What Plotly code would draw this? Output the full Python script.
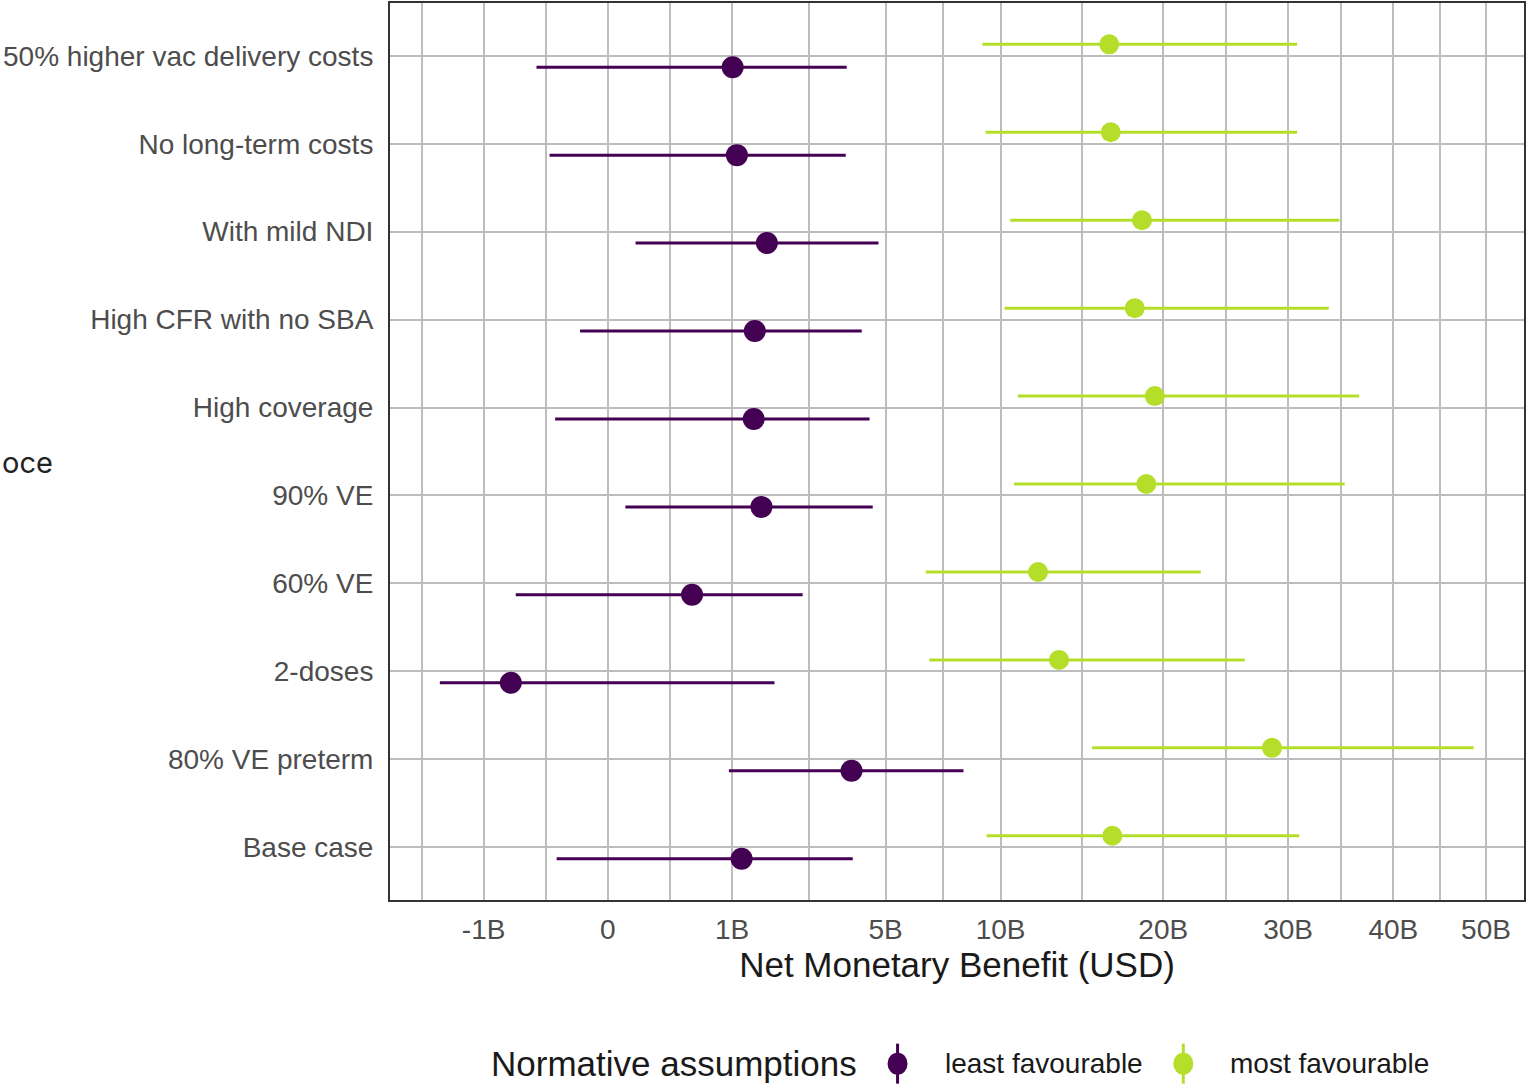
import numpy as np
import plotly.graph_objects as go

# ---------------- data (billions USD) ----------------
scenarios = ["Base case", "80% VE preterm", "2-doses", "60% VE", "90% VE",
             "High coverage", "High CFR with no SBA", "With mild NDI",
             "No long-term costs", "50% higher vac delivery costs"]

least_mid = [1.16, 3.85, -0.61, 0.46, 1.53, 1.38, 1.40, 1.64, 1.08, 1.01]
least_lo = [-0.17, 0.95, -1.83, -0.55, 0.02, -0.18, -0.05, 0.05, -0.22, -0.33]
least_hi = [3.89, 8.20, 1.80, 2.46, 4.55, 4.44, 4.18, 4.75, 3.67, 3.70]

most_mid = [16.5, 28.6, 13.2, 12.0, 18.8, 19.4, 18.0, 18.5, 16.4, 16.3]
most_lo = [9.3, 15.2, 6.7, 6.55, 10.7, 10.9, 10.2, 10.5, 9.25, 9.1]
most_hi = [31.0, 48.6, 26.3, 22.8, 35.2, 36.6, 33.7, 34.7, 30.8, 30.8]

tick_vals_b = [-1, 0, 1, 5, 10, 20, 30, 40, 50]
tick_text = ["-1B", "0", "1B", "5B", "10B", "20B", "30B", "40B", "50B"]

series_names = ["least favourable", "most favourable"]
colors = ["#440154", "#B5DE2B"]


def tr(v):
    v = np.asarray(v, dtype=float)
    return np.sign(v) * np.sqrt(np.abs(v))


# ---------------- figure ----------------
W, H = 1527, 1084
ML, MR, MT, MB = 390, 2, 1, 184
PW, PH = W - ML - MR, H - MT - MB

FONT = "Liberation Sans, Arial"
fig = go.Figure()
ypos = np.arange(len(scenarios))
dodge = 0.13

for mid, lo, hi, name, col, off, size in [
    (least_mid, least_lo, least_hi, series_names[0], colors[0], -dodge, 22),
    (most_mid, most_lo, most_hi, series_names[1], colors[1], dodge, 20),
]:
    tm, tl, th = tr(mid), tr(lo), tr(hi)
    fig.add_trace(go.Scatter(
        x=tm, y=ypos + off, mode="markers", name=name, showlegend=False,
        marker=dict(color=col, size=size, line=dict(width=0)),
        error_x=dict(type="data", symmetric=False, array=th - tm,
                     arrayminus=tm - tl, width=0, thickness=3, color=col),
    ))

major = tr(tick_vals_b)
minor = [-1.5] + list((major[:-1] + major[1:]) / 2) + [major[-1] + (major[-1] - major[-2]) / 2]

fig.update_xaxes(
    range=[-1.754, 7.377], tickvals=major, ticktext=tick_text,
    showgrid=True, gridcolor="#bdbdbd", gridwidth=2, zeroline=False,
    minor=dict(tickvals=minor, showgrid=True, gridcolor="#bdbdbd", gridwidth=2),
    tickfont=dict(family=FONT, size=28, color="#4d4d4d"),
    ticks="", ticklabelstandoff=3,
    title=dict(text="Net Monetary Benefit (USD)", standoff=6,
               font=dict(family=FONT, size=35, color="#1a1a1a")),
    showline=True, linecolor="#333333", linewidth=2, mirror=True,
)
fig.update_yaxes(
    range=[-0.6, 9.6], tickvals=ypos, ticktext=scenarios,
    showgrid=True, gridcolor="#bdbdbd", gridwidth=2, zeroline=False,
    tickfont=dict(family=FONT, size=28, color="#4d4d4d"),
    ticks="", ticklabelstandoff=9,
    showline=True, linecolor="#333333", linewidth=2, mirror=True,
)


def px2x(px):
    return (px - ML) / PW


def py2y(py):
    return (H - MB - py) / PH


annotations = []
shapes = []
ly = 1064
annotations.append(dict(text="Normative assumptions", xref="paper", yref="paper",
                        x=px2x(489), y=py2y(ly), xanchor="left", yanchor="middle",
                        showarrow=False,
                        font=dict(family=FONT, size=35, color="#1a1a1a")))
for gx, tx, name, col in [(898, 943, series_names[0], colors[0]),
                          (1184, 1229, series_names[1], colors[1])]:
    shapes.append(dict(type="line", xref="paper", yref="paper",
                       xsizemode="pixel", ysizemode="pixel",
                       xanchor=px2x(gx), yanchor=py2y(ly),
                       x0=0, x1=0, y0=-20, y1=20, line=dict(color=col, width=3)))
    shapes.append(dict(type="circle", xref="paper", yref="paper",
                       xsizemode="pixel", ysizemode="pixel",
                       xanchor=px2x(gx), yanchor=py2y(ly),
                       x0=-10, x1=10, y0=-11, y1=11, fillcolor=col,
                       line=dict(color=col, width=0)))
    annotations.append(dict(text=name, xref="paper", yref="paper",
                            x=px2x(tx), y=py2y(ly), xanchor="left", yanchor="middle",
                            showarrow=False,
                            font=dict(family=FONT, size=28, color="#1a1a1a")))

annotations.append(dict(text="oce", xref="paper", yref="paper",
                        x=px2x(0), y=py2y(462), xanchor="left", yanchor="middle",
                        showarrow=False,
                        font=dict(family="Inter, Roboto", size=29, color="#222222")))

fig.update_layout(
    width=W, height=H, autosize=False,
    margin=dict(l=ML, r=MR, t=MT, b=MB, pad=0),
    plot_bgcolor="white", paper_bgcolor="white",
    showlegend=False, annotations=annotations, shapes=shapes,
)

fig.write_html("out.html", config={"displayModeBar": False},
               post_script="document.body.style.margin='0';document.body.style.overflow='hidden';")
